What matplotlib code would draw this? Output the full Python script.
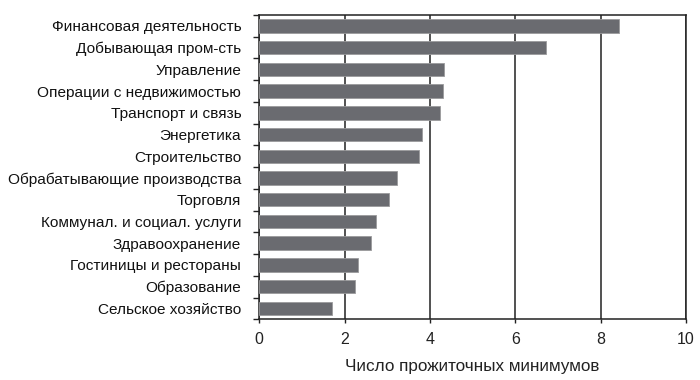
import numpy as np
import matplotlib.pyplot as plt

sectors = ["Финансовая деятельность", "Добывающая пром-сть", "Управление",
           "Операции с недвижимостью", "Транспорт и связь", "Энергетика",
           "Строительство", "Обрабатывающие производства", "Торговля",
           "Коммунал. и социал. услуги", "Здравоохранение",
           "Гостиницы и рестораны", "Образование", "Сельское хозяйство"]
values = [8.44, 6.72, 4.33, 4.31, 4.23, 3.82, 3.75, 3.22, 3.05, 2.73, 2.62,
          2.32, 2.24, 1.70]
xticks = [0, 2, 4, 6, 8, 10]

plt.rcParams['font.family'] = ['Liberation Sans', 'DejaVu Sans']

fig = plt.figure(figsize=(7, 3.8), dpi=100)
ax = fig.add_axes([259.3/700, 1-319.3/380, (686-259.3)/700, (319.3-15)/380])

y = np.arange(len(sectors))
ax.barh(y, values, height=0.62, color="#6a6b70", edgecolor="#9a9a9c",
        linewidth=0.6, zorder=3)
ax.set_ylim(len(sectors)-0.5, -0.5)
ax.set_xlim(0, 10)

ax.set_xticks(xticks)
ax.set_xticklabels([str(t) for t in xticks], fontsize=11.5, color="#222222")
ax.set_yticks(y)
ax.set_yticklabels(sectors, fontsize=11.1, color="#111111")
ax.tick_params(axis='y', length=0, pad=13)
ax.set_yticks(np.arange(len(sectors)+1)-0.5, minor=True)
ax.tick_params(axis='y', which='minor', length=4, width=1, color="#222222")
ax.tick_params(axis='x', length=3, width=1, color="#222222", pad=6)

ax.grid(axis='x', color="#222222", linewidth=1.1, zorder=1)
for s in ax.spines.values():
    s.set_color("#222222")
    s.set_linewidth(1.1)

ax.set_xlabel("Число прожиточных минимумов", fontsize=12.3, color="#222222",
              labelpad=9)

fig.savefig("out.png", dpi=100)
